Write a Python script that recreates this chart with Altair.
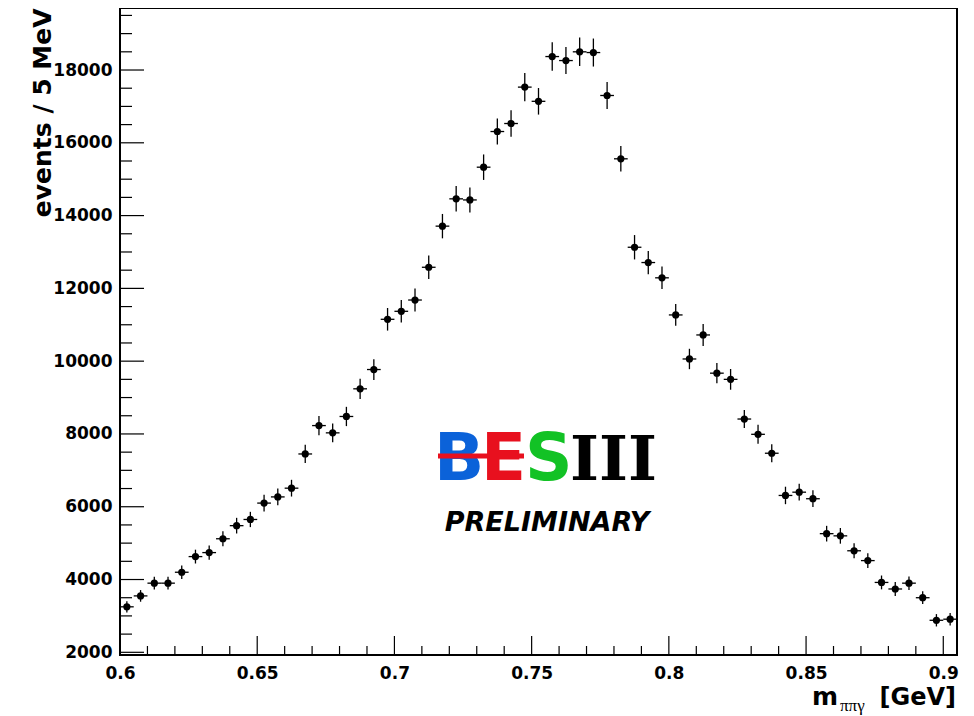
import altair as alt
import pandas as pd

# ---- data ----
mass = [0.6025, 0.6075, 0.6125, 0.6175, 0.6225, 0.6275, 0.6325, 0.6375, 0.6425, 0.6475,
        0.6525, 0.6575, 0.6625, 0.6675, 0.6725, 0.6775, 0.6825, 0.6875, 0.6925, 0.6975,
        0.7025, 0.7075, 0.7125, 0.7175, 0.7225, 0.7275, 0.7325, 0.7375, 0.7425, 0.7475,
        0.7525, 0.7575, 0.7625, 0.7675, 0.7725, 0.7775, 0.7825, 0.7875, 0.7925, 0.7975,
        0.8025, 0.8075, 0.8125, 0.8175, 0.8225, 0.8275, 0.8325, 0.8375, 0.8425, 0.8475,
        0.8525, 0.8575, 0.8625, 0.8675, 0.8725, 0.8775, 0.8825, 0.8875, 0.8925, 0.8975,
        0.9025]
events = [3250, 3550, 3900, 3900, 4200, 4630, 4740, 5120, 5480, 5650,
          6100, 6270, 6510, 7450, 8230, 8030, 8480, 9240, 9770, 11150,
          11370, 11680, 12580, 13710, 14460, 14430, 15330, 16310, 16530, 17530,
          17140, 18370, 18260, 18500, 18480, 17300, 15560, 13130, 12710, 12290,
          11270, 10060, 10720, 9670, 9500, 8410, 7990, 7470, 6310, 6400,
          6220, 5260, 5200, 4790, 4520, 3920, 3740, 3900, 3500, 2880,
          2910]
errors = [155, 160, 175, 175, 185, 190, 195, 205, 215, 210,
          230, 230, 230, 250, 265, 255, 265, 280, 285, 310,
          310, 315, 325, 335, 350, 345, 350, 360, 365, 385,
          365, 390, 370, 390, 385, 370, 350, 335, 320, 310,
          300, 280, 300, 280, 285, 250, 260, 245, 240, 230,
          230, 215, 215, 205, 205, 190, 190, 185, 175, 170,
          170]
bin_half = 0.0025

y_major = [2000, 4000, 6000, 8000, 10000, 12000, 14000, 16000, 18000]
y_minor = [2500, 3000, 3500, 4500, 5000, 5500, 6500, 7000, 7500, 8500, 9000, 9500,
           10500, 11000, 11500, 12500, 13000, 13500, 14500, 15000, 15500,
           16500, 17000, 17500, 18500, 19000, 19500]
x_major = [0.6, 0.65, 0.7, 0.75, 0.8, 0.85, 0.9]
x_minor = [0.61, 0.62, 0.63, 0.64, 0.66, 0.67, 0.68, 0.69, 0.71, 0.72, 0.73, 0.74,
           0.76, 0.77, 0.78, 0.79, 0.81, 0.82, 0.83, 0.84, 0.86, 0.87, 0.88, 0.89]

W, H = 837, 647
FONT = "DejaVu Sans"

df = pd.DataFrame({"mass": mass, "events": events, "err": errors})
df["lo"] = df["events"] - df["err"]
df["hi"] = df["events"] + df["err"]
df["xlo"] = df["mass"] - bin_half
df["xhi"] = df["mass"] + bin_half

xs = alt.Scale(domain=[0.6, 0.905], nice=False, zero=False)
ys = alt.Scale(domain=[1926, 19704], nice=False, zero=False)

x_axis = alt.Axis(values=x_major, format=".2~f", ticks=False, domain=False, grid=False,
                  labelFont=FONT, labelFontWeight="bold", labelFontSize=17, labelColor="black",
                  labelPadding=10, labelFlush=False, labelBound=False, labelOverlap=False,
                  title="")
y_axis = alt.Axis(values=y_major, format="d", ticks=False, domain=False, grid=False,
                  labelFont=FONT, labelFontWeight="bold", labelFontSize=17, labelColor="black",
                  labelPadding=8, labelOverlap=False, title="events / 5 MeV", titleFont=FONT,
                  titleFontSize=25, titleFontWeight="bold", titleColor="black", titleAngle=270,
                  titleAlign="right", titleBaseline="alphabetic", titleX=-70, titleY=0)

base = alt.Chart(df)

points = base.mark_circle(size=52, color="black", opacity=1).encode(
    x=alt.X("mass:Q", scale=xs, axis=x_axis),
    y=alt.Y("events:Q", scale=ys, axis=y_axis),
)
vbars = base.mark_rule(color="black", strokeWidth=1.3).encode(
    x=alt.X("mass:Q", scale=xs, axis=x_axis),
    y=alt.Y("lo:Q", scale=ys, axis=y_axis),
    y2="hi:Q",
)
hbars = base.mark_rule(color="black", strokeWidth=1.3).encode(
    x=alt.X("xlo:Q", scale=xs, axis=x_axis),
    x2="xhi:Q",
    y=alt.Y("events:Q", scale=ys, axis=y_axis),
)

ymaj = alt.Chart(pd.DataFrame({"v": y_major})).mark_rule(color="black", strokeWidth=1.2).encode(
    y=alt.Y("v:Q", scale=ys, axis=y_axis), x=alt.value(0), x2=alt.value(24))
ymin = alt.Chart(pd.DataFrame({"v": y_minor})).mark_rule(color="black", strokeWidth=1.2).encode(
    y=alt.Y("v:Q", scale=ys, axis=y_axis), x=alt.value(0), x2=alt.value(12))
xmaj = alt.Chart(pd.DataFrame({"v": x_major})).mark_rule(color="black", strokeWidth=1.2).encode(
    x=alt.X("v:Q", scale=xs, axis=x_axis), y=alt.value(H), y2=alt.value(H - 19))
xmin = alt.Chart(pd.DataFrame({"v": x_minor})).mark_rule(color="black", strokeWidth=1.2).encode(
    x=alt.X("v:Q", scale=xs, axis=x_axis), y=alt.value(H), y2=alt.value(H - 9))


def label(text, x, y, size, align="left", font=FONT, weight="bold", style="normal", color="black"):
    return alt.Chart(pd.DataFrame({"t": [text]})).mark_text(
        align=align, baseline="alphabetic", font=font, fontSize=size, fontWeight=weight,
        fontStyle=style, color=color).encode(x=alt.value(x), y=alt.value(y), text="t:N")


# x-axis title: m_{ππγ} [GeV]
xt_m = label("m", 692, 697, 25)
xt_sub = label("ππγ", 720, 703, 17, font="Liberation Serif", weight="normal")
xt_gev = label("[GeV]", 836, 697, 24, align="right")

# BESIII logo + PRELIMINARY
logo_B = label("B", 314, 472, 66, color="#0b62d9")
logo_E = label("E", 361, 472, 66, color="#e8101e")
logo_S = label("S", 405, 472, 66, color="#12c225")
logo_III = label("III", 450, 472, 62, font="DejaVu Serif")
logo_bar = alt.Chart(pd.DataFrame({"t": [0]})).mark_rule(color="#e8101e", strokeWidth=5).encode(
    x=alt.value(318), x2=alt.value(404), y=alt.value(448))
prelim = label("PRELIMINARY", 427, 523, 27, align="center", style="italic")

chart = alt.layer(
    points, vbars, hbars, ymaj, ymin, xmaj, xmin,
    xt_m, xt_sub, xt_gev,
    logo_B, logo_E, logo_S, logo_III, logo_bar, prelim,
).properties(
    width=W, height=H, autosize="none",
    padding={"left": 112, "top": 0, "right": 9, "bottom": 60},
).configure_view(stroke="black", strokeWidth=2)

chart.save("out.html", embed_options={"renderer": "svg", "actions": False})
